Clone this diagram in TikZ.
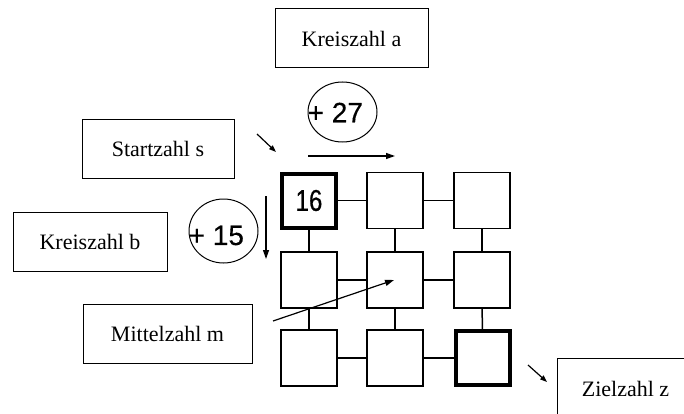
\documentclass[tikz,border=0pt]{standalone}
\usepackage{fontspec}
\setmainfont{Liberation Serif}
\newfontfamily\numfont[FakeBold=0.3]{Liberation Sans}
\newfontfamily\heavynumfont[FakeBold=0.6]{Liberation Sans}
\usetikzlibrary{arrows.meta,shapes.geometric}

\tikzset{
  labelbox/.style={draw, line width=1pt, minimum height=59pt, inner sep=0pt,
                   font=\fontsize{22}{26}\selectfont},
  cell/.style={draw, line width=1.5pt, minimum width=56pt, minimum height=56pt, inner sep=0pt},
  boldcell/.style={cell, line width=4pt, minimum width=54pt, minimum height=54pt},
  ring/.style={draw, ellipse, line width=1pt, inner sep=0pt},
  addnum/.style={font=\numfont\fontsize{28}{30}\selectfont, inner sep=0pt, anchor=west},
  link/.style={line width=1.5pt},
  pointer/.style={line width=1.2pt, -{Triangle[length=9pt,width=6pt]}},
  tinypointer/.style={line width=1.2pt, -{Triangle[length=7pt,width=5pt]}}
}

\begin{document}
\begin{tikzpicture}[x=1pt, y=-1pt]
\useasboundingbox (0,0) rectangle (684,414);
\fill[white] (0,0) rectangle (684,414);
\clip (0,0) rectangle (684,414);

% description boxes
\node[labelbox, minimum width=153pt] (ka) at (351.5,38.5) {Kreiszahl a};
\node[labelbox, minimum width=152pt, minimum height=58pt] (ss) at (158,149) {Startzahl s};
\node[labelbox, minimum width=154pt] (kb) at (90,241.5) {Kreiszahl b};
\node[labelbox, minimum width=169pt] (mm) at (167.5,333.5) {Mittelzahl m};
\node[labelbox, minimum width=143pt, minimum height=62pt] (zz) at (628.5,389) {\hspace*{-6pt}Zielzahl z};

% 3x3 grid of cells
\node[boldcell] (c11) at (309,200.5) {\heavynumfont\fontsize{30}{32}\selectfont\scalebox{0.8}[1]{16}};
\node[cell] (c12) at (395,200.5) {};
\node[cell] (c13) at (482,200.5) {};
\node[cell] (c21) at (309,280) {};
\node[cell] (c22) at (395,280) {};
\node[cell] (c23) at (482,280) {};
\node[cell] (c31) at (309,358) {};
\node[cell] (c32) at (395,358) {};
\node[boldcell] (c33) at (482.5,358) {};

% links between neighbouring cells
\foreach \r in {1,2,3}{
  \draw[link] (c\r1) -- (c\r2);
  \draw[link] (c\r2) -- (c\r3);
}
\foreach \c in {1,2,3}{
  \draw[link] (c1\c) -- (c2\c);
  \draw[link] (c2\c) -- (c3\c);
}

% the two added numbers
\node[ring, minimum width=69pt, minimum height=60pt] (ra) at (342.5,112) {};
\node[addnum] (na) at (307.5,112.5) {+ 27};
\node[ring, minimum width=69pt, minimum height=64pt] (rb) at (223.5,231) {};
\node[addnum] (nb) at (188.5,235.5) {+ 15};

% direction arrows
\coordinate (ra1) at (308,156);
\coordinate (ra2) at (395,156);
\draw[pointer] (ra1) -- (ra2);
\coordinate (rb1) at (266,196);
\coordinate (rb2) at (266,259);
\draw[pointer] (rb1) -- (rb2);

% pointers to start, middle and goal
\coordinate (ps1) at (257,134);
\coordinate (ps2) at (276,152);
\draw[tinypointer] (ps1) -- (ps2);
\coordinate (pm1) at (273,321);
\coordinate (pm2) at (394,280);
\draw[pointer] (pm1) -- (pm2);
\coordinate (pz1) at (528,365);
\coordinate (pz2) at (547,382);
\draw[tinypointer] (pz1) -- (pz2);
\end{tikzpicture}
\end{document}
